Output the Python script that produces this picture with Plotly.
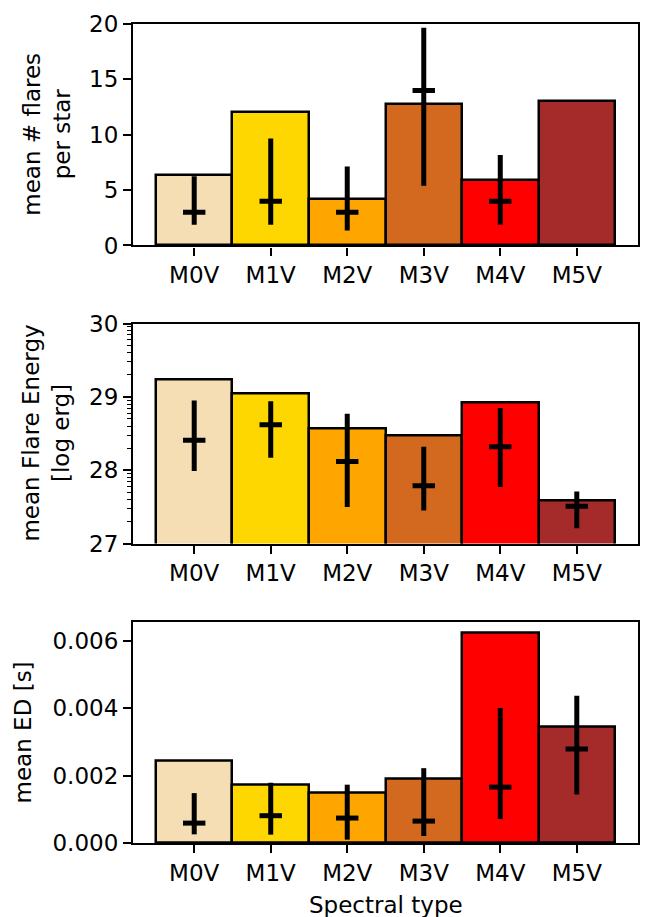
import numpy as np
import plotly.graph_objects as go

# Spectral types and bar colours
spectral_types = ["M0V", "M1V", "M2V", "M3V", "M4V", "M5V"]
bar_colors = ["#F5DEB3", "#FFD700", "#FFA500", "#D2691E", "#FF0000", "#A52A2A"]

# Panel 1: mean number of flares per star, with median and spread
flares_mean = [6.35, 12.07, 4.2, 12.76, 5.91, 13.03]
flares_median = [3.0, 4.0, 3.0, 14.0, 4.0, None]
flares_lo = [1.86, 1.86, 1.35, 5.4, 1.86, None]
flares_hi = [6.24, 9.67, 7.14, 19.67, 8.16, None]

# Panel 2: mean flare energy [log erg]
energy_mean = [29.23, 29.04, 28.57, 28.47, 28.92, 27.59]
energy_median = [28.41, 28.62, 28.12, 27.79, 28.32, 27.51]
energy_lo = [27.99, 28.17, 27.5, 27.45, 27.77, 27.21]
energy_hi = [28.95, 28.94, 28.77, 28.32, 28.85, 27.71]

# Panel 3: mean equivalent duration [s]
ed_mean = [0.002447, 0.001728, 0.00149, 0.001905, 0.00624, 0.003432]
ed_median = [0.00059, 0.00081, 0.00074, 0.00065, 0.001657, 0.00279]
ed_lo = [0.000257, 0.000248, 0.0001, 0.000207, 0.00071, 0.00144]
ed_hi = [0.00148, 0.001787, 0.00173, 0.00222, 0.004006, 0.00437]

FONT = "DejaVu Sans"
FS = 23
x_idx = list(range(len(spectral_types)))

panels = [
    (flares_mean, flares_median, flares_lo, flares_hi),
    (energy_mean, energy_median, energy_lo, energy_hi),
    (ed_mean, ed_median, ed_lo, ed_hi),
]

fig = go.Figure()
for i, (mean, med, lo, hi) in enumerate(panels, start=1):
    xa = "x" if i == 1 else f"x{i}"
    ya = "y" if i == 1 else f"y{i}"
    fig.add_trace(go.Bar(
        x=x_idx, y=mean, width=1.0,
        marker=dict(color=bar_colors, line=dict(color="black", width=2.5)),
        xaxis=xa, yaxis=ya, showlegend=False, hoverinfo="skip",
    ))
    up = [None if m is None else h - m for m, h in zip(med, hi)]
    dn = [None if m is None else m - l for m, l in zip(med, lo)]
    fig.add_trace(go.Scatter(
        x=x_idx, y=med, mode="markers",
        marker=dict(symbol="line-ew", size=16, color="black",
                    line=dict(color="black", width=5)),
        error_y=dict(type="data", symmetric=False, array=up, arrayminus=dn,
                     thickness=5, width=0, color="black"),
        xaxis=xa, yaxis=ya, showlegend=False, hoverinfo="skip",
    ))

axis_common = dict(
    showline=True, linecolor="black", linewidth=2.2, mirror=True,
    ticks="outside", ticklen=8, tickwidth=2, tickcolor="black",
    showgrid=False, zeroline=False,
    tickfont=dict(family=FONT, size=FS, color="black"),
)

xaxis_common = dict(axis_common, range=[-0.8, 5.8], tickvals=x_idx,
                    ticktext=spectral_types)

# log-style minor ticks between integer decades of the energy axis
energy_minor = [n + np.log10(k) for n in (27, 28, 29) for k in range(2, 10)]

doms = [[0.7296, 1.0], [0.3656, 0.6342], [0.0, 0.270]]

fig.update_layout(
    width=651, height=917,
    margin=dict(l=133, r=11, t=21, b=74),
    paper_bgcolor="white", plot_bgcolor="white",
    font=dict(family=FONT, size=FS, color="black"),
    bargap=0,
    xaxis=dict(xaxis_common, anchor="y"),
    xaxis2=dict(xaxis_common, anchor="y2"),
    xaxis3=dict(xaxis_common, anchor="y3"),
    yaxis=dict(axis_common, domain=doms[0], anchor="x", range=[0, 20],
               tickvals=[0, 5, 10, 15, 20]),
    yaxis2=dict(axis_common, domain=doms[1], anchor="x2", range=[27, 30],
                tickvals=[27, 28, 29, 30],
                minor=dict(tickvals=energy_minor, ticks="outside", ticklen=4,
                           tickwidth=1.3, tickcolor="black", showgrid=False)),
    yaxis3=dict(axis_common, domain=doms[2], anchor="x3", range=[0, 0.00656],
                tickvals=[0, 0.002, 0.004, 0.006], tickformat=".3f"),
)

ylabels = [
    ("mean # flares<br>per star", "y domain", -86),
    ("mean Flare Energy<br>[log erg]", "y2 domain", -87),
    ("mean ED [s]", "y3 domain", -110),
]
for text, yref, shift in ylabels:
    fig.add_annotation(
        text=text, textangle=-90, xref="paper", x=0, xanchor="center",
        xshift=shift, yref=yref, y=0.5, yanchor="middle", showarrow=False,
        font=dict(family=FONT, size=FS, color="black"),
    )

fig.add_annotation(
    text="Spectral type", xref="x3 domain", x=0.5, xanchor="center",
    yref="paper", y=0, yanchor="middle", yshift=-62, showarrow=False,
    font=dict(family=FONT, size=FS, color="black"),
)

fig.write_html("out.html")
